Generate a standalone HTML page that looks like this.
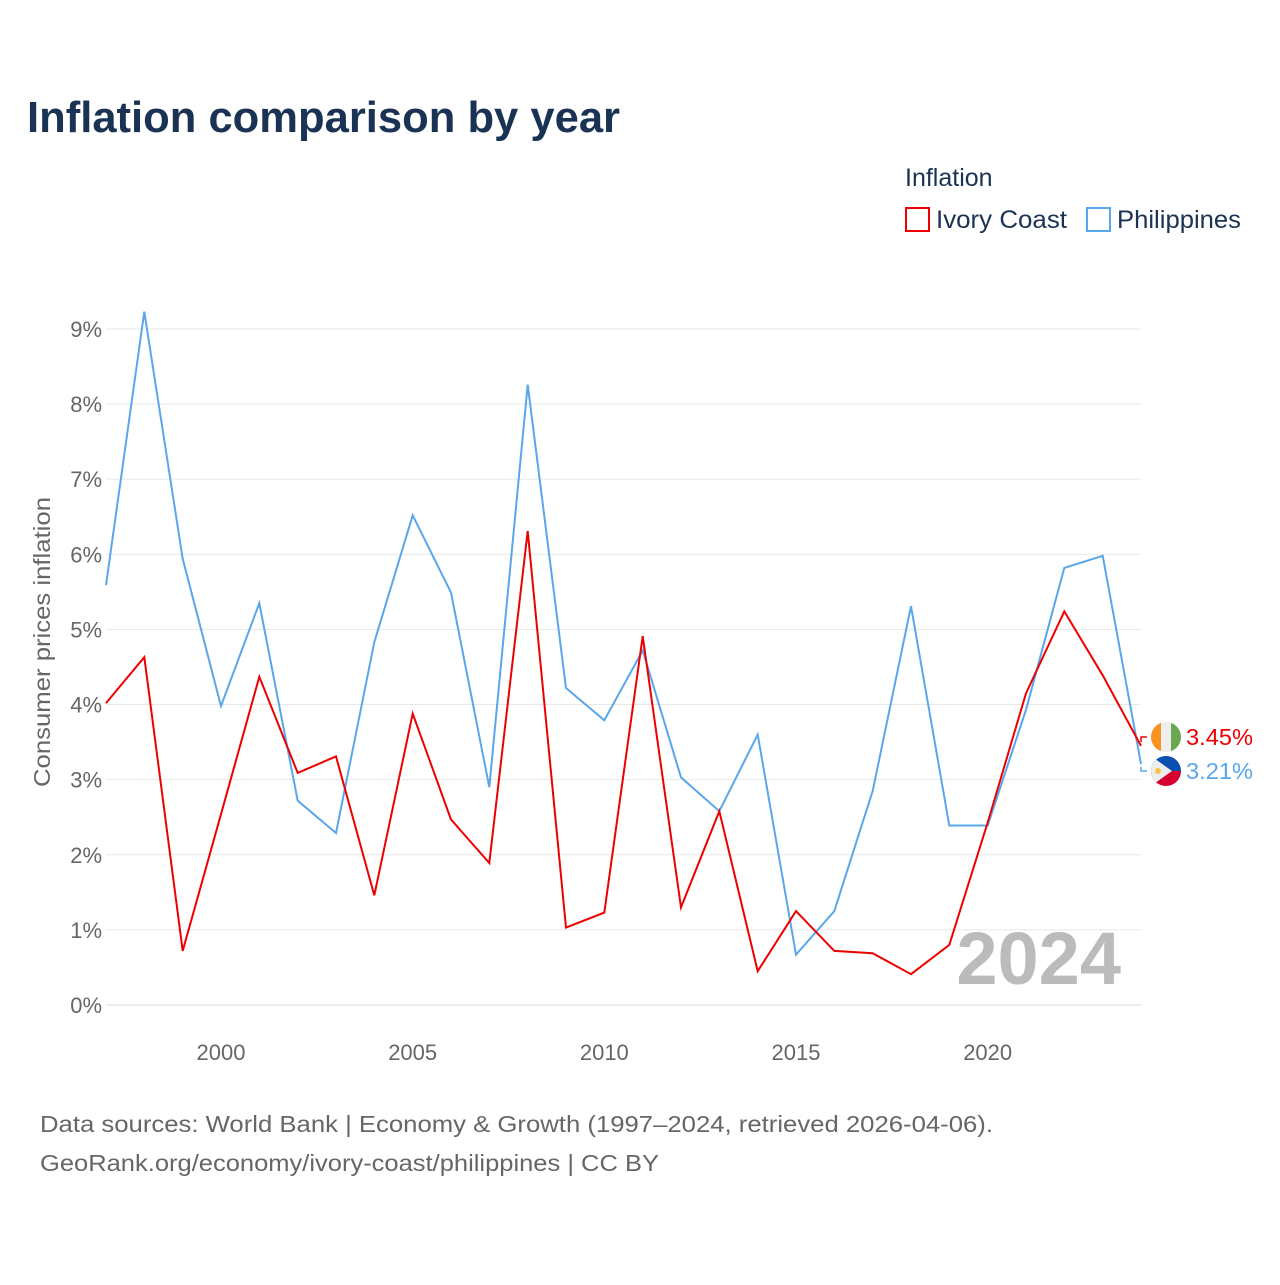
<!DOCTYPE html>
<html><head><meta charset="utf-8">
<style>
body{margin:0;background:#fff;font-family:"Liberation Sans",sans-serif;}
</style></head>
<body>
<svg id="chart" width="1280" height="1280" xmlns="http://www.w3.org/2000/svg">
<text x="27" y="132" font-size="44" font-weight="bold" fill="#1a3354" textLength="593" lengthAdjust="spacingAndGlyphs">Inflation comparison by year</text>
<text x="905" y="186" font-size="25" fill="#1a3354">Inflation</text>
<g><rect x="906" y="208" width="23" height="23" fill="none" stroke="#ee0000" stroke-width="2"/><text x="936" y="228" font-size="25" fill="#1a3354" textLength="131" lengthAdjust="spacingAndGlyphs">Ivory Coast</text></g>
<g><rect x="1087" y="208" width="23" height="23" fill="none" stroke="#5aa6ea" stroke-width="2"/><text x="1117" y="228" font-size="25" fill="#1a3354" textLength="124" lengthAdjust="spacingAndGlyphs">Philippines</text></g>
<g id="grid"></g>
<g id="yticks"></g>
<g id="xticks"></g>
<text transform="translate(50,642) rotate(-90)" text-anchor="middle" font-size="23" fill="#666" textLength="290" lengthAdjust="spacingAndGlyphs">Consumer prices inflation</text>
<text x="1121" y="984" text-anchor="end" font-size="74" font-weight="bold" fill="#bbb">2024</text>
<g id="series"></g>
<g>
<clipPath id="c1"><circle cx="1166" cy="737" r="15"/></clipPath>
<g clip-path="url(#c1)"><rect x="1151" y="722" width="10" height="30" fill="#f7931e"/><rect x="1161" y="722" width="10" height="30" fill="#eee"/><rect x="1171" y="722" width="10" height="30" fill="#6aa84f"/></g></g>
<g>
<clipPath id="c2"><circle cx="1166" cy="771" r="15"/></clipPath>
<g clip-path="url(#c2)"><rect x="1151" y="756" width="30" height="15" fill="#0b4fb0"/><rect x="1151" y="771" width="30" height="15" fill="#d6002e"/><polygon points="1151,756 1172,771 1151,786" fill="#eee"/><circle cx="1158" cy="771" r="3" fill="#f5c842"/></g></g>
<text x="1186" y="745" font-size="23" fill="#ee0000" textLength="67" lengthAdjust="spacingAndGlyphs">3.45%</text>
<text x="1186" y="779" font-size="23" fill="#5aa6ea" textLength="67" lengthAdjust="spacingAndGlyphs">3.21%</text>
<path d="M1141 742 L1141 737 L1147 737" fill="none" stroke="#ee0000" stroke-width="1.5"/>
<path d="M1141 767 L1141 771 L1147 771" fill="none" stroke="#5aa6ea" stroke-width="1.5"/>
<text x="40" y="1132" font-size="23" fill="#666" textLength="953" lengthAdjust="spacingAndGlyphs">Data sources: World Bank | Economy &amp; Growth (1997–2024, retrieved 2026-04-06).</text>
<text x="40" y="1171" font-size="23" fill="#666" textLength="619" lengthAdjust="spacingAndGlyphs">GeoRank.org/economy/ivory-coast/philippines | CC BY</text>
</svg>
<script>
const years=[1997,1998,1999,2000,2001,2002,2003,2004,2005,2006,2007,2008,2009,2010,2011,2012,2013,2014,2015,2016,2017,2018,2019,2020,2021,2022,2023,2024];
const ivoryCoast=[4.02,4.63,0.72,2.54,4.37,3.09,3.31,1.46,3.88,2.47,1.89,6.31,1.03,1.23,4.91,1.30,2.58,0.45,1.25,0.72,0.69,0.41,0.80,2.43,4.15,5.24,4.39,3.45];
const philippines=[5.59,9.23,5.94,3.98,5.35,2.72,2.29,4.83,6.52,5.49,2.90,8.26,4.22,3.79,4.72,3.03,2.58,3.60,0.67,1.25,2.85,5.31,2.39,2.39,3.93,5.82,5.98,3.21];
const yTicks=[0,1,2,3,4,5,6,7,8,9];
const xTicks=[2000,2005,2010,2015,2020];
const NS="http://www.w3.org/2000/svg";
const X=v=>106+(v-1997)*(1141-106)/27;
const Y=v=>1005-v*(1005-329)/9;
function mk(t,a,p){const e=document.createElementNS(NS,t);for(const k in a)e.setAttribute(k,a[k]);p.appendChild(e);return e;}
const grid=document.getElementById('grid'),yt=document.getElementById('yticks'),xt=document.getElementById('xticks'),ser=document.getElementById('series');
yTicks.forEach(v=>{
 const l=mk('line',{x1:106,x2:1141,y1:Y(v),y2:Y(v),stroke:v===0?'#ddd':'#e8e8e8','stroke-width':1},grid);
 
 
 const t=mk('text',{x:102,y:Y(v)+8,'text-anchor':'end','font-size':22,fill:'#666'},yt);
 t.textContent=v+'%';
 
 
});
xTicks.forEach(v=>{
 const t=mk('text',{x:X(v),y:1060,'text-anchor':'middle','font-size':22,fill:'#666'},xt);
 t.textContent=v;
 
 
});
function line(vals,color,name){
 const d=vals.map((v,i)=>(i?'L':'M')+X(years[i]).toFixed(1)+' '+Y(v).toFixed(1)).join(' ');
 const p=mk('path',{d:d,fill:'none',stroke:color,'stroke-width':2,'stroke-linejoin':'miter'},ser);
 
 
}
line(philippines,'#5aa6ea','line-philippines');
line(ivoryCoast,'#ee0000','line-ivory-coast');
</script>
</body></html>
